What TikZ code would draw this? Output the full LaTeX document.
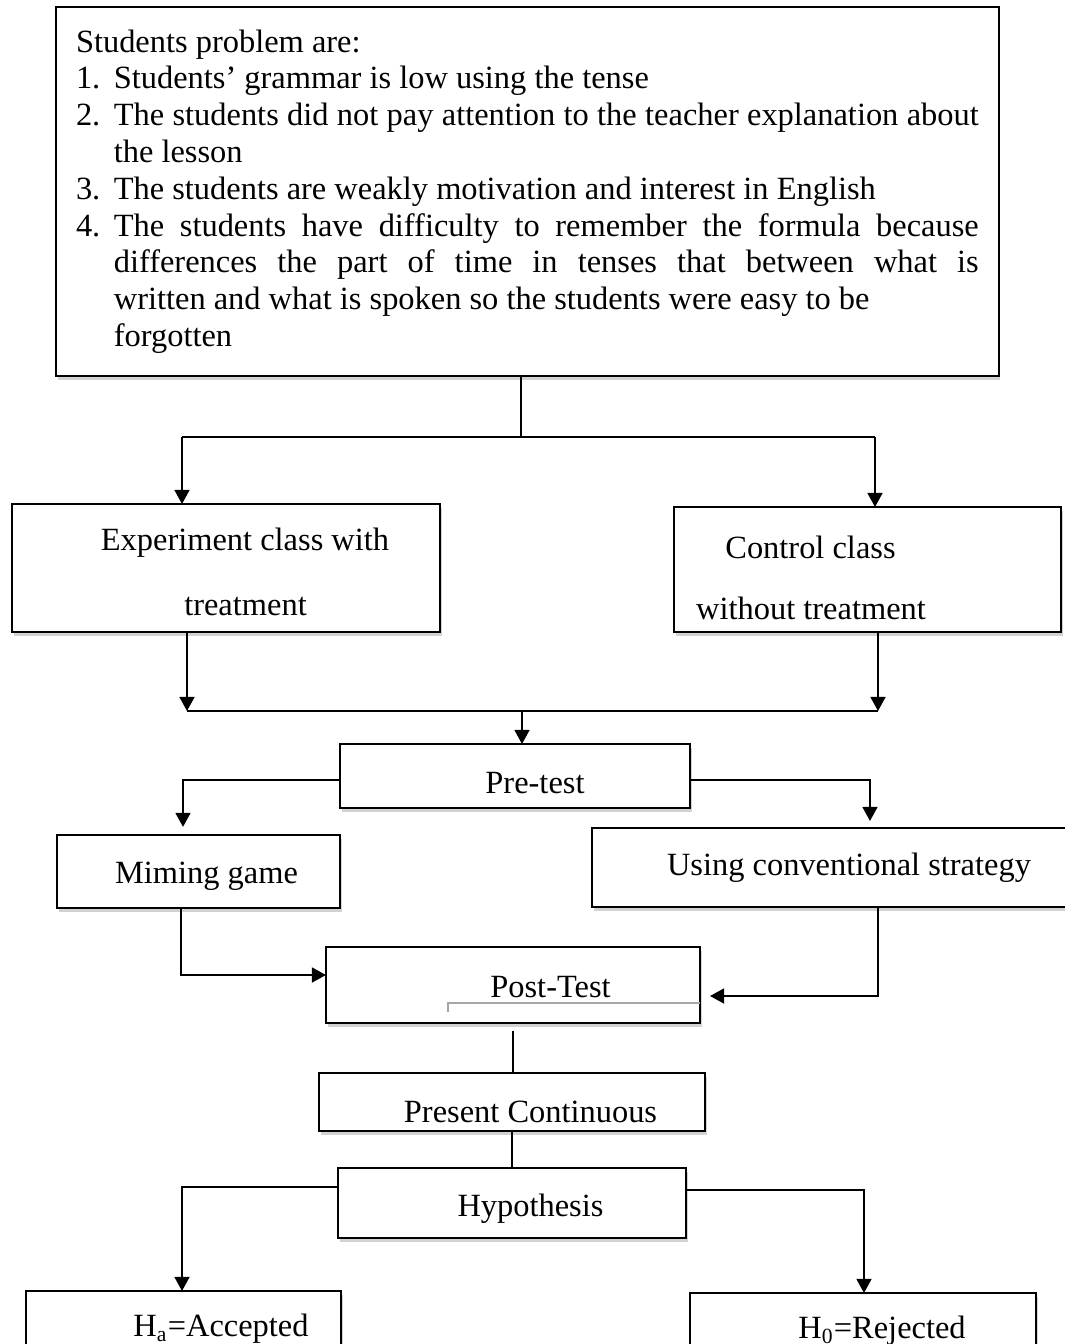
\documentclass[tikz,border=0pt]{standalone}
\usepackage{fontspec}
\setmainfont{Liberation Serif}
\usetikzlibrary{arrows.meta,shadows}
\newlength{\pxu}
\setlength{\pxu}{0.37pt}
\newcommand{\probitem}[1]{\par\noindent\hangindent=14pt\hangafter=1\makebox[14pt][l]{#1}\ignorespaces}
\begin{document}
\begin{tikzpicture}[
        x=0.37pt,
        y=-0.37pt,
        every node/.style={font=\fontsize{12}{13.6}\selectfont},
        box/.style={draw, line width=0.8pt, fill=white, inner sep=0pt, outer sep=0pt, drop shadow={shadow xshift=0.6pt, shadow yshift=-1.4pt, opacity=0.35}},
        boxtext/.style={anchor=base, inner sep=0pt},
        link/.style={line width=0.7pt},
        arr/.style={link, -{Triangle[length=5.2pt, width=5.5pt]}},
        faint/.style={draw=gray!70, line width=0.8pt}
    ]
    \useasboundingbox (0,0) rectangle (1065,1344);
    \fill[white] (0,0) rectangle (1065,1344);

    % problem list
    \node[box, anchor=north west, text width=334pt, inner xsep=7.4pt, minimum height=369\pxu, align=justify] (prob) at (56,7) {%
        \noindent Students problem are:
        \probitem{1.}Students’ grammar is low using the tense
        \probitem{2.}The students did not pay attention to the teacher explanation about\linebreak the lesson
        \probitem{3.}The students are weakly motivation and interest in English
        \probitem{4.}The students have difficulty to remember the formula because\linebreak differences the part of time in tenses that between what is\linebreak written and what is spoken so the students were easy to be\newline forgotten\par\vspace{3.7pt}};

    % classes
    \node[box, minimum width=428\pxu, minimum height=128\pxu,
        label={[boxtext, xshift=19\pxu, yshift=25\pxu]center:Experiment class with},
        label={[boxtext, xshift=19.5\pxu, yshift=-39\pxu]center:treatment}] (exp) at (226,568) {};
    \node[box, minimum width=387\pxu, minimum height=125\pxu,
        label={[boxtext, xshift=-57\pxu, yshift=22.5\pxu]center:Control class},
        label={[boxtext, xshift=-56.5\pxu, yshift=-38.5\pxu]center:without treatment}] (ctrl) at (867.5,569.5) {};

    % tests and treatments
    \node[box, minimum width=350\pxu, minimum height=64\pxu,
        label={[boxtext, xshift=20\pxu, yshift=-7\pxu]center:Pre-test}] (pre) at (515,776) {};
    \node[box, minimum width=283\pxu, minimum height=73\pxu,
        label={[boxtext, xshift=8\pxu, yshift=-4.5\pxu]center:Miming game}] (miming) at (198.5,871.5) {};
    \node[box, minimum width=478\pxu, minimum height=79\pxu,
        label={[boxtext, xshift=18\pxu, yshift=-0.5\pxu]center:Using conventional strategy}] (using) at (831,867.5) {};
    \node[box, minimum width=374\pxu, minimum height=76\pxu,
        label={[boxtext, xshift=37.5\pxu, yshift=-2\pxu]center:Post-Test}] (post) at (513,985) {};
    \node[box, minimum width=386\pxu, minimum height=58\pxu,
        label={[boxtext, xshift=18.5\pxu, yshift=-10\pxu]center:Present Continuous}] (present) at (512,1102) {};
    \node[box, minimum width=348\pxu, minimum height=70\pxu,
        label={[boxtext, xshift=18.5\pxu, yshift=-6\pxu]center:Hypothesis}] (hyp) at (512,1203) {};

    % results
    \node[box, minimum width=315\pxu, minimum height=79\pxu,
        label={[boxtext, xshift=37.5\pxu, yshift=1.5\pxu]center:H\textsubscript{a}=Accepted}] (ha) at (183.5,1330.5) {};
    \node[box, minimum width=346\pxu, minimum height=77\pxu,
        label={[boxtext, xshift=19\pxu, yshift=0.5\pxu]center:H\textsubscript{0}=Rejected}] (h0) at (863,1331.5) {};

    % split to the two classes
    \coordinate (splitC) at (521,437);
    \coordinate (splitL) at (182,437);
    \coordinate (splitR) at (875,437);
    \draw[link] (prob.south -| splitC) -- (splitC);
    \draw[link] (splitL) -- (splitR);
    \draw[arr] (splitL) -- (splitL |- exp.north);
    \draw[arr] (splitR) -- (splitR |- ctrl.north);

    % join into pre-test
    \coordinate (joinL) at (187,711);
    \coordinate (joinR) at (878,711);
    \coordinate (joinC) at (522,711);
    \draw[arr] (exp.south -| joinL) -- (joinL);
    \draw[arr] (ctrl.south -| joinR) -- (joinR);
    \draw[link] (joinL) -- (joinR);
    \draw[arr] (joinC) -- (joinC |- pre.north);

    % pre-test to treatments
    \coordinate (preL) at (183,780);
    \coordinate (preR) at (870,780);
    \draw[arr, shorten >=3pt] (pre.west |- preL) -- (preL) -- (preL |- miming.north);
    \draw[arr, shorten >=2.6pt] (pre.east |- preR) -- (preR) -- (preR |- using.north);

    % treatments to post-test
    \coordinate (mimB) at (181,975);
    \coordinate (useB) at (878,996);
    \draw[arr] (miming.south -| mimB) -- (mimB) -- (mimB -| post.west);
    \draw[arr, shorten >=3.7pt] (using.south -| useB) -- (useB) -- (useB -| post.east);
    \coordinate (stray) at (448,1003);
    \draw[faint] (stray) ++(0,9) -- (stray) -- (stray -| post.east);

    % down to hypothesis
    \draw[link, shorten <=3pt] (post.south) -- (post.south |- present.north);
    \draw[link] (present.south) -- (hyp.north);
    \coordinate (hypL) at (182,1187);
    \coordinate (hypR) at (864,1190);
    \draw[arr] (hyp.west |- hypL) -- (hypL) -- (hypL |- ha.north);
    \draw[arr] (hyp.east |- hypR) -- (hypR) -- (hypR |- h0.north);
\end{tikzpicture}
\end{document}
